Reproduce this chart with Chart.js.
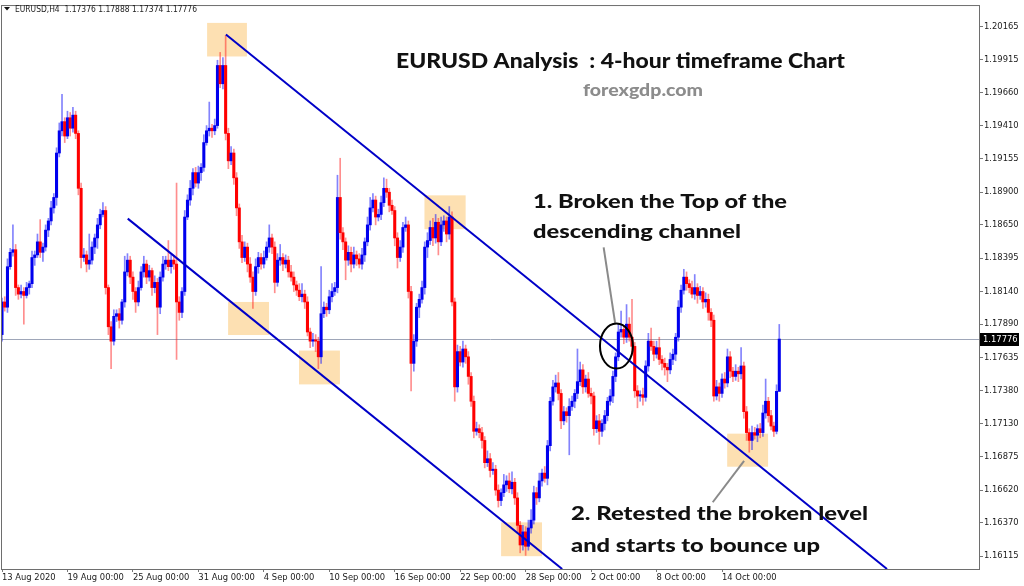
<!DOCTYPE html>
<html>
<head>
<meta charset="utf-8">
<script src="https://cdn.jsdelivr.net/npm/chart.js@4.4.1/dist/chart.umd.min.js"></script>
<style>
  html, body { margin: 0; padding: 0; background: #fff; }
  canvas { display: block; }
</style>
</head>
<body>
<canvas id="chart" width="1024" height="586"></canvas>
<script>
// EURUSD H4, one value per 4-hour bar (open of a bar = close of the bar before)
const firstOpen = 1.1781;
const closes = [
  1.1806, 1.1802, 1.1833, 1.1844, 1.1846, 1.1817, 1.1812, 1.1814, 1.1811, 1.1817,
  1.1820, 1.1840, 1.1842, 1.1852, 1.1844, 1.1848, 1.1861, 1.1868, 1.1878, 1.1886,
  1.1920, 1.1937, 1.1944, 1.1933, 1.1947, 1.1939, 1.1949, 1.1935, 1.1893, 1.1840,
  1.1842, 1.1835, 1.1838, 1.1848, 1.1855, 1.1865, 1.1873, 1.1876, 1.1817, 1.1787,
  1.1776, 1.1795, 1.1797, 1.1792, 1.1806, 1.1829, 1.1838, 1.1825, 1.1814, 1.1806,
  1.1817, 1.1829, 1.1835, 1.1825, 1.1830, 1.1817, 1.1821, 1.1802, 1.1825, 1.1835,
  1.1838, 1.1833, 1.1838, 1.1835, 1.1806, 1.1798, 1.1814, 1.1871, 1.1884, 1.1893,
  1.1905, 1.1897, 1.1905, 1.1909, 1.1928, 1.1937, 1.1939, 1.1937, 1.1941, 1.1987,
  1.1973, 1.1987, 1.1935, 1.1914, 1.1920, 1.1901, 1.1878, 1.1852, 1.1840, 1.1848,
  1.1835, 1.1825, 1.1814, 1.1833, 1.1840, 1.1835, 1.1840, 1.1848, 1.1855, 1.1848,
  1.1821, 1.1838, 1.1840, 1.1835, 1.1838, 1.1829, 1.1825, 1.1819, 1.1815, 1.1810,
  1.1812, 1.1806, 1.1783, 1.1776, 1.1777, 1.1776, 1.1764, 1.1797, 1.1802, 1.1800,
  1.1810, 1.1814, 1.1817, 1.1886, 1.1859, 1.1852, 1.1838, 1.1844, 1.1835, 1.1842,
  1.1839, 1.1835, 1.1842, 1.1852, 1.1865, 1.1878, 1.1884, 1.1871, 1.1873, 1.1882,
  1.1893, 1.1890, 1.1880, 1.1876, 1.1855, 1.1840, 1.1848, 1.1863, 1.1865, 1.1814,
  1.1759, 1.1776, 1.1802, 1.1808, 1.1817, 1.1848, 1.1853, 1.1863, 1.1855, 1.1867,
  1.1852, 1.1865, 1.1868, 1.1858, 1.1871, 1.1806, 1.1741, 1.1768, 1.1760, 1.1770,
  1.1764, 1.1749, 1.1730, 1.1707, 1.1709, 1.1706, 1.1700, 1.1683, 1.1686, 1.1677,
  1.1678, 1.1662, 1.1654, 1.1660, 1.1666, 1.1669, 1.1663, 1.1668, 1.1656, 1.1635,
  1.1620, 1.1630, 1.1619, 1.1633, 1.1639, 1.1660, 1.1656, 1.1669, 1.1675, 1.1671,
  1.1696, 1.1730, 1.1741, 1.1744, 1.1736, 1.1715, 1.1722, 1.1719, 1.1726, 1.1730,
  1.1736, 1.1745, 1.1754, 1.1741, 1.1747, 1.1736, 1.1734, 1.1709, 1.1715, 1.1707,
  1.1713, 1.1719, 1.1730, 1.1734, 1.1749, 1.1764, 1.1783, 1.1785, 1.1779, 1.1789,
  1.1779, 1.1772, 1.1738, 1.1734, 1.1735, 1.1733, 1.1757, 1.1776, 1.1772, 1.1766,
  1.1771, 1.1762, 1.1759, 1.1756, 1.1754, 1.1762, 1.1766, 1.1779, 1.1802, 1.1815,
  1.1825, 1.1820, 1.1817, 1.1812, 1.1817, 1.1811, 1.1814, 1.1806, 1.1808, 1.1798,
  1.1792, 1.1734, 1.1741, 1.1736, 1.1747, 1.1744, 1.1764, 1.1753, 1.1749, 1.1753,
  1.1751, 1.1757, 1.1722, 1.1706, 1.1700, 1.1706, 1.1704, 1.1709, 1.1706, 1.1721,
  1.1730, 1.1719, 1.1711, 1.1707, 1.17376, 1.17776
];
// wick lengths in pips above / below the body
const wickUp = [
  3,4,6,3,19,4,2,5,3,4,  2,5,3,6,17,3,4,2,5,3,  4,6,21,3,5,4,6,3,2,4,
  5,3,20,4,3,5,4,6,3,2,  4,5,3,4,2,12,5,3,4,3,  5,4,6,3,4,2,5,3,4,6,
  3,15,4,3,62,4,3,5,4,6, 3,4,5,3,6,4,20,3,5,4,  10,6,23,4,5,3,4,3,5,4,
  3,5,4,6,4,3,5,4,10,3,  4,5,10,3,4,3,5,4,3,5,  8,3,4,3,5,4,3,36,4,3,
  5,6,4,17,30,4,3,5,4,6, 3,4,5,3,6,8,5,3,4,5,   8,7,3,4,3,4,5,4,6,3,
  4,5,3,4,5,4,6,5,7,6,   3,6,4,3,8,4,3,5,4,6,   3,4,3,4,5,3,4,3,6,4,
  5,3,4,3,8,4,6,8,3,4,   3,5,4,6,8,5,4,6,3,5,   4,3,5,6,8,3,4,3,6,4,
  3,25,6,4,3,5,4,3,4,5,  3,4,3,5,4,3,6,14,3,15, 5,29,3,4,3,5,4,6,10,4,
  5,8,3,4,3,5,4,3,5,4,   6,4,3,5,10,3,4,3,5,4,  3,4,5,3,4,5,6,4,3,5,
  3,14,3,4,3,5,4,3,4,6,  17,3,4,3,5,11.2
];
const wickDown = [
  5,3,4,2,3,6,4,3,22,2,  5,3,6,2,4,7,3,5,3,4,   6,3,4,5,2,6,3,4,5,8,
  3,6,4,3,5,8,3,2,5,6,   21,3,4,6,3,4,3,5,6,8,  3,2,4,5,3,6,4,21,5,3,
  4,3,5,4,44,6,4,3,2,4,  5,3,4,6,3,2,4,5,3,2,   3,4,5,6,3,5,6,5,4,3,
  6,4,13,3,5,4,3,2,4,5,  8,3,4,5,3,4,3,5,4,3,   4,5,3,5,4,8,9,5,3,5,
  3,4,3,4,5,6,15,4,6,3,  5,3,4,5,3,4,3,6,3,4,   3,4,5,3,6,8,3,4,3,5,
  21,6,4,8,3,5,8,3,6,4,  10,3,5,6,4,3,11,4,3,4, 5,6,4,5,3,4,6,4,3,5,
  3,4,5,4,3,5,3,4,5,6,   6,4,7,3,4,3,5,3,4,3,   5,4,3,4,5,6,3,5,30,3,
  5,4,3,5,4,3,6,5,3,10,  4,5,4,3,5,4,3,4,5,4,   3,4,5,9,4,6,3,4,3,5,
  3,4,5,6,9,3,4,5,3,4,   3,5,4,3,4,6,3,5,4,6,   5,4,3,6,3,4,3,5,4,3,
  6,4,5,6,9,7,3,5,4,3,   4,5,3,4,2,0.2
];

const dateTickBars = [0, 24, 48, 72, 96, 120, 144, 168, 192, 216, 240, 264];
const dateLabels = ['13 Aug 2020', '19 Aug 00:00', '25 Aug 00:00', '31 Aug 00:00', '4 Sep 00:00',
  '10 Sep 00:00', '16 Sep 00:00', '22 Sep 00:00', '28 Sep 00:00', '2 Oct 00:00', '8 Oct 00:00', '14 Oct 00:00'];
const priceTicks = [1.20165, 1.19915, 1.19660, 1.19410, 1.19155, 1.18900, 1.18650, 1.18395, 1.18140,
  1.17890, 1.17635, 1.17380, 1.17130, 1.16875, 1.16620, 1.16370, 1.16115];
const lastPrice = 1.17776;
const headerText = 'EURUSD,H4  1.17376 1.17888 1.17374 1.17776';

// drawn objects, in bar index / price
const channelTop = [{ x: 82.1, y: 1.20107 }, { x: 324.5, y: 1.16016 }];
const channelBottom = [{ x: 46.1, y: 1.18698 }, { x: 205.4, y: 1.16016 }];
const zones = [
  [75.2, 89.8, 1.20196, 1.19939],
  [154.9, 170.0, 1.18876, 1.18617],
  [82.9, 97.9, 1.18060, 1.17807],
  [108.9, 123.9, 1.17688, 1.17429],
  [183.0, 198.0, 1.16373, 1.16114],
  [265.9, 280.9, 1.17052, 1.16799]
];
const breakCircle = { x: 225.3, y: 1.17722 };
const pointers = [
  [{ x: 220.6, y: 1.18478 }, { x: 224.8, y: 1.17900 }],
  [{ x: 260.6, y: 1.16527 }, { x: 272.1, y: 1.16844 }]
];

const PIP = 0.0001;
const opens = closes.map((c, i) => i === 0 ? firstOpen : closes[i - 1]);
const highs = closes.map((c, i) => Math.max(opens[i], c) + wickUp[i] * PIP);
const lows = closes.map((c, i) => Math.min(opens[i], c) - wickDown[i] * PIP);
const isUp = closes.map((c, i) => c >= opens[i]);

const tickFont = { family: 'Tahoma, "DejaVu Sans", "Liberation Sans", sans-serif', size: 8.4 };
const noteFont = 'Lato, "Open Sans", sans-serif';

// text fitted to a box: cap height sets the size, width sets the horizontal stretch
function boxText(ctx, txt, x, base, w, capH, weight, family, color) {
  const size = capH / 0.72;
  ctx.font = weight + ' ' + size + 'px ' + family;
  const sx = w / ctx.measureText(txt).width;
  ctx.save();
  ctx.translate(x, base);
  ctx.scale(sx, 1);
  ctx.fillStyle = color;
  ctx.textAlign = 'left';
  ctx.textBaseline = 'alphabetic';
  ctx.fillText(txt, 0, 0);
  ctx.restore();
}

const decor = {
  id: 'decor',
  beforeDatasetsDraw(chart) {
    const { ctx, chartArea: a, scales: { x, y } } = chart;
    ctx.save();
    ctx.beginPath();
    ctx.rect(a.left, a.top, a.right - a.left, a.bottom - a.top);
    ctx.clip();
    ctx.fillStyle = '#fde0b2';
    zones.forEach(([b0, b1, p0, p1]) => {
      const x0 = x.getPixelForValue(b0), x1 = x.getPixelForValue(b1);
      const y0 = y.getPixelForValue(p0), y1 = y.getPixelForValue(p1);
      ctx.fillRect(x0, y0, x1 - x0, y1 - y0);
    });
    const yp = Math.round(y.getPixelForValue(lastPrice)) + 0.5;
    ctx.strokeStyle = '#9ea6b8';
    ctx.lineWidth = 1;
    ctx.beginPath();
    ctx.moveTo(a.left, yp);
    ctx.lineTo(a.right, yp);
    ctx.stroke();
    ctx.restore();
  },
  afterDatasetsDraw(chart) {
    const { ctx, scales: { x, y } } = chart;
    ctx.save();
    ctx.strokeStyle = '#8a8a8a';
    ctx.lineWidth = 2;
    pointers.forEach(([p, q]) => {
      ctx.beginPath();
      ctx.moveTo(x.getPixelForValue(p.x), y.getPixelForValue(p.y));
      ctx.lineTo(x.getPixelForValue(q.x), y.getPixelForValue(q.y));
      ctx.stroke();
    });
    ctx.strokeStyle = '#000';
    ctx.lineWidth = 2;
    ctx.beginPath();
    ctx.ellipse(x.getPixelForValue(breakCircle.x), y.getPixelForValue(breakCircle.y), 16.5, 22.5, 0, 0, Math.PI * 2);
    ctx.stroke();
    boxText(ctx, 'EURUSD Analysis  : 4-hour timeframe Chart', 396, 68, 449, 15.5, '900', noteFont, '#111');
    boxText(ctx, 'forexgdp.com', 583, 96, 120, 12.5, '900', noteFont, '#8c8c8c');
    boxText(ctx, '1. Broken the Top of the', 533, 208, 254, 13.5, '900', noteFont, '#111');
    boxText(ctx, 'descending channel', 533, 238, 208, 13.5, '900', noteFont, '#111');
    boxText(ctx, '2. Retested the broken level', 571, 520, 297, 13.5, '900', noteFont, '#111');
    boxText(ctx, 'and starts to bounce up', 571, 552, 249, 13.5, '900', noteFont, '#111');
    ctx.restore();
  },
  afterDraw(chart) {
    const { ctx, chartArea: a, scales: { y } } = chart;
    ctx.save();
    ctx.strokeStyle = '#6e6e6e';
    ctx.lineWidth = 1;
    ctx.strokeRect(a.left + 0.5, a.top - 0.5, a.right - a.left - 1, a.bottom - a.top + 1);
    const yp = Math.round(y.getPixelForValue(lastPrice));
    ctx.fillStyle = '#000';
    ctx.fillRect(a.right, yp - 6, 39, 13);
    ctx.fillStyle = '#fff';
    ctx.font = tickFont.size + 'px ' + tickFont.family;
    ctx.textBaseline = 'middle';
    ctx.textAlign = 'left';
    ctx.fillText(lastPrice.toFixed(5), a.right + 3, yp + 0.5);
    ctx.fillStyle = '#111';
    ctx.beginPath();
    ctx.moveTo(4, 7); ctx.lineTo(10, 7); ctx.lineTo(7, 10.5); ctx.closePath();
    ctx.fill();
    boxText(ctx, headerText, 15, 11.5, 182, 6.3, 'normal', tickFont.family, '#222');
    ctx.restore();
  }
};

new Chart(document.getElementById('chart'), {
  type: 'bar',
  data: {
    datasets: [
      {
        label: 'channel top', type: 'line', data: channelTop,
        borderColor: '#0000c8', borderWidth: 2, pointRadius: 0, order: 0
      },
      {
        label: 'channel bottom', type: 'line', data: channelBottom,
        borderColor: '#0000c8', borderWidth: 2, pointRadius: 0, order: 0
      },
      {
        label: 'body',
        data: closes.map((c, i) => ({ x: i, y: [opens[i], c] })),
        backgroundColor: isUp.map(u => u ? '#0000ee' : '#ff0000'),
        barThickness: 2.4, minBarLength: 1, grouped: false, order: 1
      },
      {
        label: 'wick',
        data: closes.map((c, i) => ({ x: i, y: [lows[i], highs[i]] })),
        backgroundColor: isUp.map(u => u ? 'rgba(30,30,250,0.55)' : 'rgba(255,30,30,0.5)'),
        barThickness: 1, grouped: false, order: 2
      }
    ]
  },
  options: {
    responsive: false,
    animation: false,
    devicePixelRatio: 1,
    layout: { padding: { left: 1, top: 2, right: 0, bottom: 0 } },
    plugins: { legend: { display: false }, tooltip: { enabled: false } },
    scales: {
      x: {
        type: 'linear', min: -0.37, max: 358.6, offset: false,
        grid: { drawOnChartArea: false, tickLength: 3, color: '#777', offset: false },
        border: { display: false },
        afterBuildTicks: s => { s.ticks = dateTickBars.map(v => ({ value: v })); },
        afterFit: s => { s.height = 17; },
        ticks: {
          autoSkip: false, maxRotation: 0, align: 'start', padding: 1,
          color: '#1a1a1a', font: tickFont,
          callback: (v, i) => dateLabels[i]
        }
      },
      y: {
        position: 'right', min: 1.16016, max: 1.20325,
        grid: { drawOnChartArea: false, tickLength: 3, color: '#777' },
        border: { display: false },
        afterBuildTicks: s => { s.ticks = priceTicks.map(v => ({ value: v })); },
        afterFit: s => { s.width = 44; },
        ticks: {
          autoSkip: false, padding: 1, color: '#1a1a1a', font: tickFont,
          callback: v => v.toFixed(5)
        }
      }
    }
  },
  plugins: [decor]
});
</script>
</body>
</html>
